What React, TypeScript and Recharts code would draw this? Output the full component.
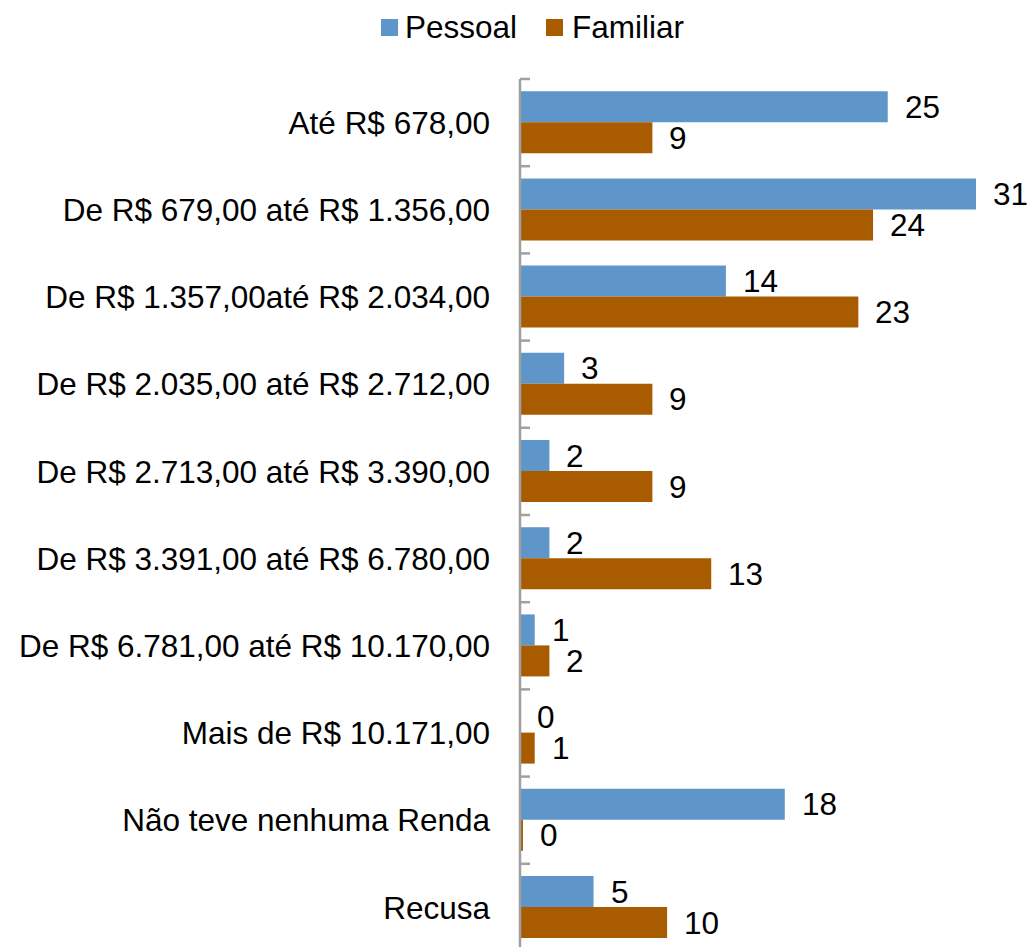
import { BarChart, Bar, XAxis, YAxis, LabelList } from "recharts";

const categories = [
  "Até R$ 678,00",
  "De R$ 679,00 até R$ 1.356,00",
  "De R$ 1.357,00até R$ 2.034,00",
  "De R$ 2.035,00 até R$ 2.712,00",
  "De R$ 2.713,00 até R$ 3.390,00",
  "De R$ 3.391,00 até R$ 6.780,00",
  "De R$ 6.781,00 até R$ 10.170,00",
  "Mais de R$ 10.171,00",
  "Não teve nenhuma Renda",
  "Recusa",
];
const pessoal = [25, 31, 14, 3, 2, 2, 1, 0, 18, 5];
const familiar = [9, 24, 23, 9, 9, 13, 2, 1, 0, 10];

const data = categories.map((name, i) => ({ name, Pessoal: pessoal[i], Familiar: familiar[i] }));

const W = 1027;
const H = 947;
const CHART_H = 951;
const TOP = 79;
const BOTTOM = 0;
const AXIS_X = 520;
const BAND = (CHART_H - TOP - BOTTOM) / categories.length;
const BLUE = "#5e96ca";
const BROWN = "#a95b00";
const FONT = "'Liberation Sans', Arial, sans-serif";
const FS = 31.5;
const GRAY = "#a0a0a0";

function CategoryTick(props: any) {
  const { x, y, payload, index } = props;
  return (
    <g>
      <text x={x} y={y} dy="0.355em" textAnchor="end" fontSize={FS} fontFamily={FONT} fill="#000">
        {payload.value}
      </text>
      <line x1={AXIS_X} x2={AXIS_X + 10} y1={y - BAND / 2} y2={y - BAND / 2} stroke={GRAY} strokeWidth={2.5} />
      {index === categories.length - 1 && (
        <line x1={AXIS_X} x2={AXIS_X + 10} y1={y + BAND / 2} y2={y + BAND / 2} stroke={GRAY} strokeWidth={2.5} />
      )}
    </g>
  );
}

function ValueLabel(props: any) {
  const { x, y, width, height, value } = props;
  return (
    <text
      x={Number(x) + Math.round(Number(width || 0)) + 17}
      y={Number(y) + Number(height) / 2}
      dy="0.355em"
      fontSize={FS}
      fontFamily={FONT}
      fill="#000"
    >
      {value}
    </text>
  );
}

export default function App() {
  return (
    <div
      style={{
        position: "absolute",
        left: 0,
        top: 0,
        width: W,
        height: H,
        overflow: "hidden",
        background: "#fff",
        fontFamily: FONT,
      }}
    >
      <div style={{ position: "absolute", top: 8, left: 381, display: "flex", alignItems: "center", fontSize: FS, lineHeight: "38px" }}>
        <span style={{ width: 17, height: 17, background: BLUE, display: "inline-block", marginRight: 7 }} />
        <span style={{ marginRight: 29 }}>Pessoal</span>
        <span style={{ width: 17, height: 17, background: BROWN, display: "inline-block", marginRight: 9 }} />
        <span>Familiar</span>
      </div>
      <BarChart
        width={W}
        height={CHART_H}
        data={data}
        layout="vertical"
        margin={{ top: TOP, right: 51, bottom: BOTTOM, left: 0 }}
        barCategoryGap="14%"
        barGap={0}
      >
        <XAxis type="number" domain={[0, 31]} hide />
        <YAxis
          type="category"
          dataKey="name"
          width={AXIS_X}
          axisLine={{ stroke: GRAY, strokeWidth: 2.5 }}
          tickLine={false}
          tickSize={0}
          tickMargin={30}
          tick={<CategoryTick />}
          interval={0}
        />
        <Bar dataKey="Pessoal" fill={BLUE} minPointSize={0.01} isAnimationActive={false}>
          <LabelList dataKey="Pessoal" content={<ValueLabel />} />
        </Bar>
        <Bar dataKey="Familiar" fill={BROWN} minPointSize={3} isAnimationActive={false}>
          <LabelList dataKey="Familiar" content={<ValueLabel />} />
        </Bar>
      </BarChart>
    </div>
  );
}
